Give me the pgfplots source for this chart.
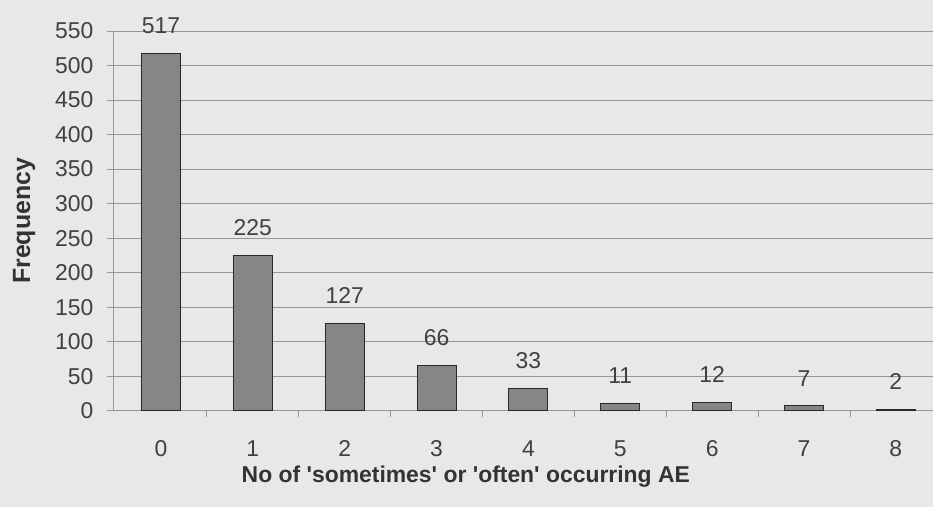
\documentclass[border=0pt]{standalone}
\usepackage{pgfplots}
\pgfplotsset{compat=1.18}
\usepackage{fontspec}
\setmainfont{Liberation Sans}
\usetikzlibrary{backgrounds}
\definecolor{bg}{RGB}{232,232,232}
\definecolor{barfill}{RGB}{134,134,134}
\definecolor{baredge}{RGB}{40,40,40}
\definecolor{gridc}{RGB}{150,150,150}
\begin{document}
\begin{tikzpicture}
\begin{axis}[
  at={(0,0)}, anchor=south west,
  scale only axis,
  width=820bp, height=380bp,
  xmin=-0.522, xmax=8.40,
  ymin=0, ymax=550,
  ytick={0,50,...,550},
  xtick={0,...,8},
  minor xtick={0.5,1.5,...,7.5},
  axis x line*=bottom,
  axis y line*=left,
  axis line style={gridc, line width=0.8pt},
  tick align=outside,
  major x tick style={draw=none},
  minor x tick style={gridc, line width=0.8pt},
  minor tick length=6bp,
  y tick style={gridc, line width=0.8pt},
  major tick length=6bp,
  ymajorgrids,
  grid style={gridc, line width=0.7pt},
  ybar, bar width=39bp,
  tick label style={font=\fontsize{23}{27}\selectfont, text=black!75},
  /pgf/number format/assume math mode=true,
  yticklabel style={xshift=-10bp},
  xticklabel style={yshift=-20bp},
  xlabel={\textbf{No of \textquotesingle sometimes\textquotesingle\ or \textquotesingle often\textquotesingle\ occurring AE}},
  ylabel={\textbf{Frequency}},
  label style={text=black!80},
  xlabel style={font=\fontsize{23}{27}\selectfont, yshift=-3bp, xshift=-57bp},
  ylabel style={font=\fontsize{25}{29}\selectfont, yshift=13bp},
  nodes near coords,
  every node near coord/.append style={font=\fontsize{23}{27}\selectfont, text=black!75, yshift=16bp},
]
\addplot[fill=barfill, draw=baredge, line width=1pt] coordinates {
(0,517) (1,225) (2,127) (3,66) (4,33) (5,11) (6,12) (7,7) (8,2)};
\end{axis}
\begin{scope}[on background layer]
\fill[bg] (-113bp,-96bp) rectangle (820bp,411bp);
\end{scope}
\end{tikzpicture}
\end{document}
